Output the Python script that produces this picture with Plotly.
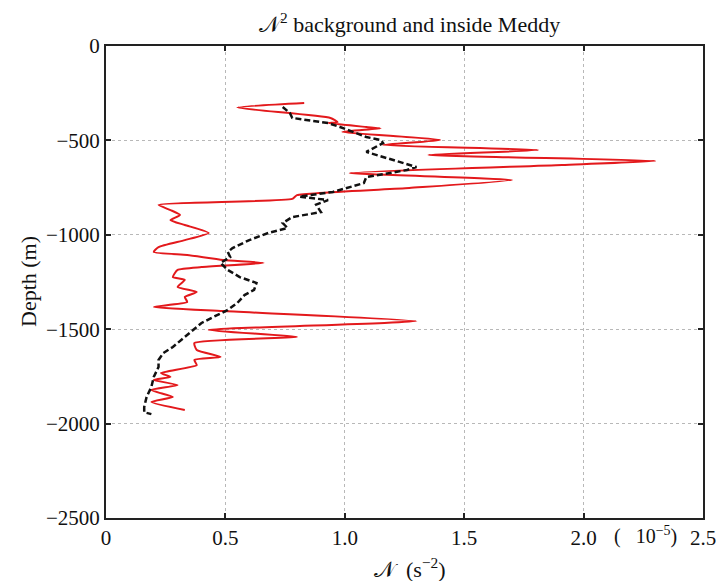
import plotly.graph_objects as go

# Inside-Meddy N^2 profile (red, x 1e-5 s^-2) and depth (m)
meddy_n2 = [0.83, 0.55, 0.94, 0.97, 0.93, 1.09, 1.15, 0.99, 1.40, 1.16,
            1.81, 1.35, 2.30, 1.91, 1.02, 1.70, 1.27, 0.80, 0.78, 0.22,
            0.27, 0.31, 0.27, 0.33, 0.43, 0.33, 0.22, 0.20, 0.34, 0.49,
            0.66, 0.40, 0.30, 0.28, 0.33, 0.30, 0.38, 0.33, 0.34, 0.20,
            0.49, 1.30, 0.43, 0.80, 0.37, 0.38, 0.48, 0.37, 0.38, 0.23,
            0.27, 0.20, 0.30, 0.19, 0.28, 0.19, 0.33]
meddy_depth = [-302, -326, -381, -403, -408, -429, -436, -455, -498, -524,
               -551, -577, -609, -630, -673, -710, -752, -790, -810, -842,
               -869, -895, -922, -948, -990, -1028, -1065, -1091, -1107, -1133,
               -1149, -1171, -1186, -1224, -1239, -1276, -1303, -1329, -1356, -1382,
               -1404, -1457, -1504, -1541, -1573, -1610, -1647, -1663, -1690, -1732,
               -1753, -1769, -1796, -1822, -1859, -1886, -1928]

# Background N^2 profile (black dashed)
background_n2 = [0.74, 0.77, 0.78, 0.93, 0.98, 1.09, 1.15, 1.16, 1.09, 1.13,
                 1.30, 1.26, 1.09, 1.08, 0.95, 0.81, 0.93, 0.88, 0.90, 0.78,
                 0.74, 0.76, 0.68, 0.60, 0.53, 0.51, 0.52, 0.48, 0.51, 0.56,
                 0.63, 0.62, 0.58, 0.55, 0.51, 0.45, 0.40, 0.35, 0.30, 0.28,
                 0.24, 0.22, 0.22, 0.20, 0.19, 0.17, 0.16, 0.16, 0.19]
background_depth = [-323, -355, -381, -408, -429, -482, -498, -514, -561, -577,
                    -641, -657, -694, -726, -773, -798, -816, -840, -880, -906,
                    -938, -964, -990, -1028, -1070, -1091, -1118, -1149, -1186, -1224,
                    -1255, -1292, -1319, -1361, -1398, -1435, -1467, -1520, -1573, -1594,
                    -1626, -1663, -1700, -1753, -1806, -1859, -1912, -1940, -1950]

x_tickvals = [0, 0.5, 1.0, 1.5, 2.0, 2.5]
x_ticktext = ["0", "0.5", "1.0", "1.5", "2.0", "2.5"]
y_tickvals = [0, -500, -1000, -1500, -2000, -2500]
y_ticktext = ["0", "\u2212500", "\u22121000", "\u22121500", "\u22122000", "\u22122500"]

FONT = "Liberation Serif"

fig = go.Figure()
fig.add_trace(go.Scatter(x=meddy_n2, y=meddy_depth, mode="lines",
                         line=dict(color="#e3191c", width=2, shape="spline", smoothing=0.5),
                         showlegend=False))
fig.add_trace(go.Scatter(x=background_n2, y=background_depth, mode="lines",
                         line=dict(color="#111111", width=2.5, dash="6px,3px"),
                         showlegend=False))

axis_common = dict(showline=True, linecolor="#222222", linewidth=2, mirror="ticks",
                   ticks="inside", ticklen=5, tickwidth=1.5, tickcolor="#222222",
                   showgrid=True, gridcolor="#b8b8b8", griddash="dot", gridwidth=1,
                   zeroline=False, automargin=False, ticklabeloverflow="allow",
                   tickfont=dict(family=FONT, size=21, color="#111111"))

fig.update_xaxes(range=[0, 2.5], tickvals=x_tickvals, ticktext=x_ticktext, **axis_common)
fig.update_yaxes(range=[-2500, 0], tickvals=y_tickvals, ticktext=y_ticktext, **axis_common)

NB = "\u00a0"
fig.update_layout(
    width=716, height=581,
    margin=dict(l=106, r=13, t=46, b=63),
    plot_bgcolor="white", paper_bgcolor="white",
    annotations=[
        dict(text="\U0001D4A9<sup>2</sup> background and inside Meddy", xref="paper", yref="paper",
             x=0.508, y=1, yshift=23, showarrow=False, yanchor="middle",
             font=dict(family=FONT, size=22, color="#111111")),
        dict(text="\U0001D4A9" + NB + NB + "(s<sup>\u22122</sup>)", xref="paper", yref="paper",
             x=0.51, y=0, yshift=-50, showarrow=False, yanchor="middle",
             font=dict(family=FONT, size=22, color="#111111")),
        dict(text="Depth (m)", xref="paper", yref="paper", textangle=-90,
             x=0, xshift=-78, y=0.5, showarrow=False, xanchor="center",
             font=dict(family=FONT, size=22, color="#111111")),
        dict(text="(" + NB * 3 + "10<sup>\u22125</sup>)", xref="paper", yref="paper",
             x=0.848, xanchor="left", y=0, yshift=-17, showarrow=False, yanchor="middle",
             font=dict(family=FONT, size=20, color="#111111")),
    ],
)

fig.write_html("out.html")
